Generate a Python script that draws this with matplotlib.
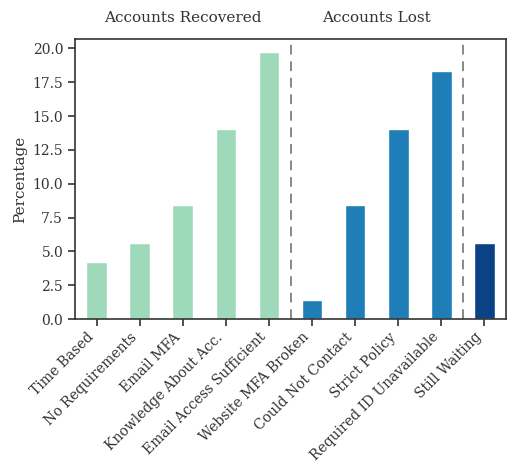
import matplotlib
matplotlib.use("Agg")
import matplotlib.pyplot as plt
import seaborn as sns

categories = ["Time Based", "No Requirements", "Email MFA", "Knowledge About Acc.",
              "Email Access Sufficient", "Website MFA Broken", "Could Not Contact",
              "Strict Policy", "Required ID Unavailable", "Still Waiting"]
percentages = [4.23, 5.63, 8.45, 14.08, 19.72, 1.41, 8.45, 14.08, 18.31, 5.63]
groups = ["recovered"] * 5 + ["lost"] * 4 + ["waiting"]
group_titles = [("Accounts Recovered", 2.0), ("Accounts Lost", 6.5)]
separators = [4.5, 8.5]

sns.set_theme(style="ticks")
plt.rcParams["font.family"] = ["DejaVu Serif"]

palette = {"recovered": "#9edab9", "lost": "#1f7db8", "waiting": "#0b4285"}

fig = plt.figure(figsize=(5.07, 4.65), dpi=100)
ax = fig.add_axes([75 / 507, 146 / 465, 431 / 507, 280 / 465])

xs = list(range(len(categories)))
ax.bar(xs, percentages, width=0.48, color=[palette[g] for g in groups])

for s in separators:
    ax.axvline(s, color="#888888", linestyle=(0, (5, 3.5)), linewidth=1.4)

ax.set_xlim(-0.5, len(categories) - 0.5)
ax.set_ylim(0, 20.7)
yticks = [0, 2.5, 5, 7.5, 10, 12.5, 15, 17.5, 20]
ax.set_yticks(yticks)
ax.set_yticklabels([f"{v:.1f}" for v in yticks])
ax.set_xticks(xs)
ax.set_xticklabels(categories, rotation=45, ha="right")
ax.tick_params(labelsize=10, length=5, width=1.2, colors="#333333")
ax.tick_params(axis="x", pad=3)
ax.set_ylabel("Percentage", fontsize=11, color="#333333")

for sp in ax.spines.values():
    sp.set_color("#333333")
    sp.set_linewidth(1.2)

for title, xpos in group_titles:
    ax.text(xpos, 1.075, title, transform=ax.get_xaxis_transform(),
            ha="center", va="center", fontsize=11, color="#333333")

fig.savefig("out.png", dpi=100)
